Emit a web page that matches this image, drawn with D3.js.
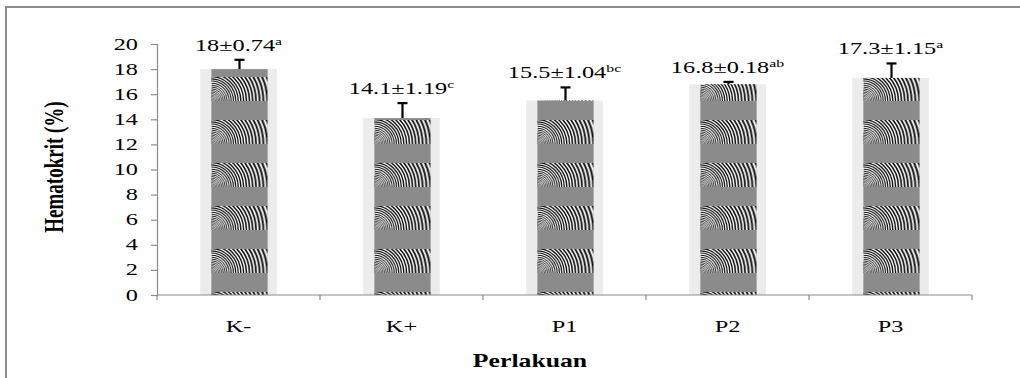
<!DOCTYPE html>
<html>
<head>
<meta charset="utf-8">
<script src="https://cdn.jsdelivr.net/npm/d3@7"></script>
<style>
  html, body { margin: 0; padding: 0; background: #fff; }
  svg { display: block; }
  text { font-family: "Liberation Serif", "Times New Roman", serif; fill: #000; }
</style>
</head>
<body>
<svg id="chart" width="1020" height="378"></svg>
<script>
// Hematokrit per perlakuan (mean ± SD) with significance letters
const categories = ["K-", "K+", "P1", "P2", "P3"];
const means = [18, 14.1, 15.5, 16.8, 17.3];
const sds = [0.74, 1.19, 1.04, 0.18, 1.15];
const meanLabels = ["18", "14.1", "15.5", "16.8", "17.3"];
const sdLabels = ["0.74", "1.19", "1.04", "0.18", "1.15"];
const letters = ["a", "c", "bc", "ab", "a"];
const yTicks = [0, 2, 4, 6, 8, 10, 12, 14, 16, 18, 20];

const svg = d3.select("#chart");
const W = 1020, H = 378;
const plot = { left: 157, right: 972, top: 44, bottom: 295 };
const SX = 1.43; // horizontal text stretch

const x = d3.scaleBand().domain(categories).range([plot.left, plot.right]);
const y = d3.scaleLinear().domain([0, 20]).range([plot.bottom, plot.top]);

// outer frame (top and left edges)
svg.append("path")
  .attr("d", `M6,${H} V7 H${W}`)
  .attr("fill", "none").attr("stroke", "#8c8c8c").attr("stroke-width", 2);

// bar geometry
const outerW = x.step() * 0.47;
const innerW = x.step() * 0.345;
const tileH = 43, arcH = 24;
const tileY0 = 77 % tileH;

// one textured fill per bar, anchored at the bar's left edge
const defs = svg.append("defs");
categories.forEach((c, i) => {
  const bx = x(c) + (x.bandwidth() - innerW) / 2 + 1;
  const pat = defs.append("pattern")
    .attr("id", "tex" + i)
    .attr("patternUnits", "userSpaceOnUse")
    .attr("x", bx).attr("y", tileY0)
    .attr("width", innerW).attr("height", tileH);
  pat.append("rect").attr("width", innerW).attr("height", tileH).attr("fill", "#fafafa");
  const g = pat.append("g");
  let r = 1.0;
  while (r < 80) {
    const s = 1.1 + r * 0.055;
    g.append("circle")
      .attr("cx", 0).attr("cy", arcH).attr("r", r)
      .attr("fill", "none").attr("stroke", "#111").attr("stroke-width", s * 0.5);
    r += s;
  }
  pat.append("rect").attr("y", arcH).attr("width", innerW).attr("height", tileH - arcH).attr("fill", "#8b8b8b");
});

// light backing behind each bar
svg.append("g").selectAll("rect")
  .data(categories)
  .join("rect")
  .attr("x", c => x(c) + (x.bandwidth() - outerW) / 2)
  .attr("y", (c, i) => y(means[i]))
  .attr("width", outerW)
  .attr("height", (c, i) => y(0) - y(means[i]))
  .attr("fill", "#ececec");

// textured bars
svg.append("g").selectAll("rect")
  .data(categories)
  .join("rect")
  .attr("x", c => x(c) + (x.bandwidth() - innerW) / 2 + 1)
  .attr("y", (c, i) => y(means[i]))
  .attr("width", innerW)
  .attr("height", (c, i) => y(0) - y(means[i]))
  .attr("fill", (c, i) => `url(#tex${i})`);

// y axis
const yAxis = svg.append("g")
  .attr("transform", `translate(${plot.left},0)`)
  .call(d3.axisLeft(y).tickValues(yTicks).tickSize(6).tickPadding(0).tickFormat(d3.format("d")));
yAxis.select(".domain").attr("stroke", "#8c8c8c").attr("stroke-width", 1.2);
yAxis.selectAll(".tick line").attr("stroke", "#8c8c8c").attr("stroke-width", 1.2);
yAxis.selectAll(".tick text")
  .attr("x", null).attr("dy", null)
  .attr("transform", `translate(-19,5) scale(${SX},1)`)
  .attr("text-anchor", "end")
  .style("font-family", "Liberation Serif")
  .style("font-size", "17px");

// x axis with ticks at category boundaries
const xg = svg.append("g").attr("transform", `translate(0,${plot.bottom})`);
xg.append("line")
  .attr("x1", plot.left).attr("x2", plot.right)
  .attr("stroke", "#8c8c8c").attr("stroke-width", 1.2);
const bounds = categories.map(c => x(c)).concat([plot.right]);
xg.selectAll(".bt").data(bounds).join("line")
  .attr("x1", d => d).attr("x2", d => d)
  .attr("y1", 0).attr("y2", 5)
  .attr("stroke", "#8c8c8c").attr("stroke-width", 1.2);
xg.selectAll(".cl").data(categories).join("text")
  .attr("transform", c => `translate(${x(c) + x.bandwidth() / 2},${332 - plot.bottom}) scale(${SX},1)`)
  .attr("text-anchor", "middle")
  .style("font-size", "17px")
  .text(c => c);

// error bars (upper only)
const eb = svg.append("g").attr("stroke", "#000").attr("stroke-width", 2.2);
categories.forEach((c, i) => {
  const cx = x(c) + x.bandwidth() / 2 + 1;
  const yt = y(means[i] + sds[i]);
  eb.append("line").attr("x1", cx).attr("x2", cx).attr("y1", y(means[i])).attr("y2", yt);
  eb.append("line").attr("x1", cx - 5).attr("x2", cx + 5).attr("y1", yt).attr("y2", yt);
});

// value labels with superscript letters
categories.forEach((c, i) => {
  const cx = x(c) + x.bandwidth() / 2;
  const t = svg.append("text")
    .attr("transform", `translate(${cx},${y(means[i] + sds[i]) - 9}) scale(${SX},1)`)
    .attr("text-anchor", "middle")
    .style("font-size", "17px");
  t.append("tspan").text(`${meanLabels[i]}±${sdLabels[i]}`);
  t.append("tspan").attr("dy", -6).style("font-size", "11px").text(letters[i]);
});

// axis titles
svg.append("text")
  .attr("transform", `translate(530,367) scale(${SX},1)`)
  .attr("text-anchor", "middle")
  .style("font-size", "18px").style("font-weight", "bold")
  .text("Perlakuan");

svg.append("text")
  .attr("transform", `translate(63,167) scale(${SX},1) rotate(-90)`)
  .attr("text-anchor", "middle")
  .style("font-size", "19px").style("font-weight", "bold")
  .text("Hematokrit (%)");
</script>
</body>
</html>
